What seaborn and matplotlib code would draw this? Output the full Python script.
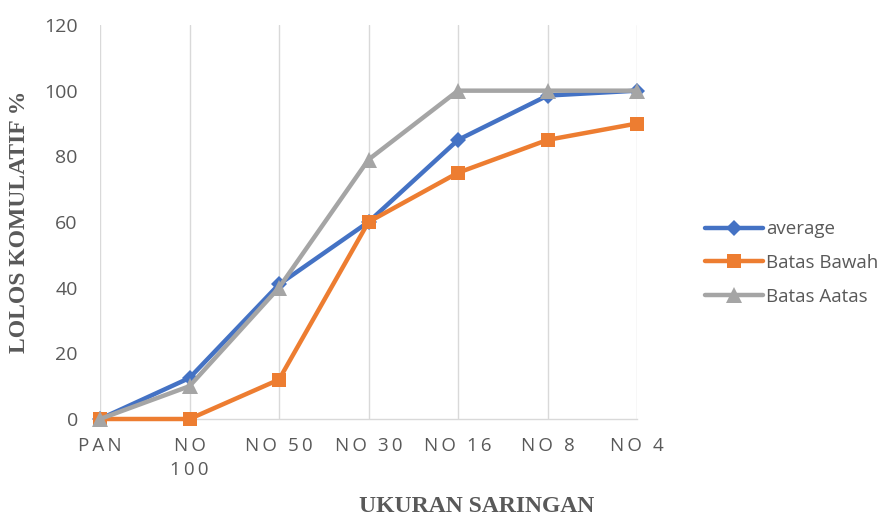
import matplotlib
matplotlib.use("Agg")
import matplotlib.pyplot as plt
import seaborn as sns
import pandas as pd

# Sieve sizes and cumulative passing percentages
sieves = ["PAN", "NO\n100", "NO 50", "NO 30", "NO 16", "NO 8", "NO 4"]
average = [0, 12.5, 41, 60, 85, 98.5, 100]
batas_bawah = [0, 0, 12, 60, 75, 85, 90]
batas_atas = [0, 10, 40, 79, 100, 100, 100]
y_ticks = [0, 20, 40, 60, 80, 100, 120]

sns.set_theme(style="white")
plt.rcParams["font.family"] = ["Open Sans", "DejaVu Sans"]

text_gray = "#595959"
grid_gray = "#D9D9D9"


def spaced(label):
    # widen the letter spacing of the category labels with thin spaces
    lines = []
    for line in label.split("\n"):
        words = ["\u2009".join(w) for w in line.split(" ")]
        lines.append("\u2009 \u2009".join(words))
    return "\n".join(lines)


fig = plt.figure(figsize=(8.89, 5.16), dpi=100)
ax = fig.add_axes([100 / 889, 1 - 419 / 516, (637 - 100) / 889, (419 - 25) / 516])

series = [
    ("average", average, "#4472C4", "D", 8),
    ("Batas Bawah", batas_bawah, "#ED7D31", "s", 10),
    ("Batas Aatas", batas_atas, "#A5A5A5", "^", 11),
]
for i, (name, vals, color, mk, ms) in enumerate(series):
    df = pd.DataFrame({"sieve": sieves, "value": vals})
    sns.lineplot(data=df, x="sieve", y="value", sort=False, ax=ax, color=color,
                 marker=mk, markersize=ms, markeredgewidth=0, linewidth=2.8,
                 label=name, zorder=3 + i, clip_on=False)

ax.set_xlim(0, len(sieves) - 1)
ax.set_ylim(0, 120)
ax.set_yticks(y_ticks)
ax.set_yticklabels([str(v) for v in y_ticks], color=text_gray, fontsize=14)
ax.set_xticks(range(len(sieves)))
ax.set_xticklabels([spaced(s) for s in sieves], color=text_gray, fontsize=13.5, linespacing=1.4)
ax.tick_params(axis="x", length=0, pad=13)
ax.tick_params(axis="y", length=0, pad=16)

ax.grid(axis="x", color=grid_gray, linewidth=1)
ax.grid(axis="y", visible=False)
for side in ["top", "right", "left"]:
    ax.spines[side].set_visible(False)
ax.spines["bottom"].set_color(grid_gray)
ax.spines["bottom"].set_linewidth(1)

ax.set_xlabel("")
ax.set_ylabel("")
fig.text(20 / 889, 1 - 222 / 516, "LOLOS KOMULATIF %", rotation=90, ha="center", va="center",
         fontsize=17, fontweight="bold", family="Liberation Serif", color=text_gray)
fig.text(477 / 889, 1 - 506 / 516, "UKURAN SARINGAN", ha="center", va="center",
         fontsize=17, fontweight="bold", family="Liberation Serif", color=text_gray)

handles, labels = ax.get_legend_handles_labels()
ax.legend_.remove()
for h in handles:
    h.set_linewidth(3.2)
leg = fig.legend(handles, labels, loc="center left", bbox_to_anchor=(692 / 889, 1 - 263 / 516),
                 frameon=False, fontsize=13.5, handlelength=3.1, labelspacing=0.85,
                 handletextpad=0.15, borderaxespad=0.3)
for t in leg.get_texts():
    t.set_color(text_gray)

fig.savefig("out.png", dpi=100)
